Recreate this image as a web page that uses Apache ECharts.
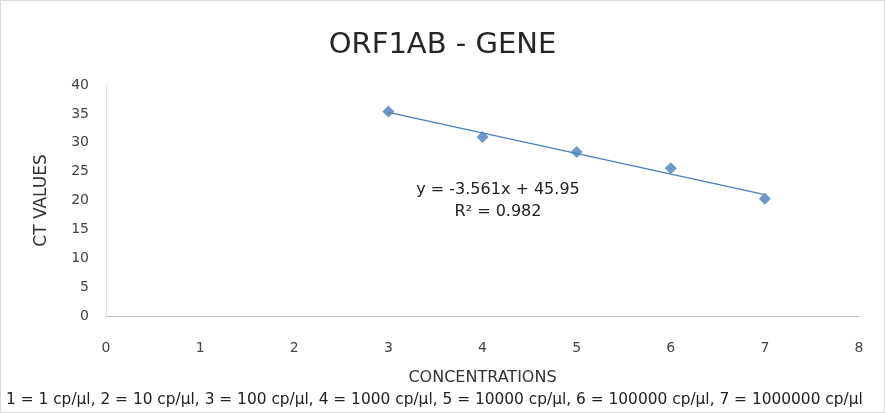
<!DOCTYPE html>
<html>
<head>
<meta charset="utf-8">
<script src="https://cdn.jsdelivr.net/npm/echarts@6/dist/echarts.min.js"></script>
<style>
  html, body { margin: 0; padding: 0; background: #fff; }
  #chart { width: 885px; height: 413px; box-sizing: border-box; border: 1px solid #d9d9d9; }
</style>
</head>
<body>
<div id="chart"></div>
<script>
// concentration index (log10 copies/ul)
const concentrations = [3, 4, 5, 6, 7]
const ctValues = [35.4, 31.0, 28.4, 25.6, 20.3]
// linear trendline from the picture
const slope = -3.561
const intercept = 45.95
const trendX = [3, 7]

const chart = echarts.init(document.getElementById('chart'))
const font = "'DejaVu Sans', sans-serif"

const option = {
  animation: false,
  textStyle: { fontFamily: font },
  title: {
    text: 'ORF1AB - GENE',
    left: 'center',
    top: 25,
    textStyle: { fontSize: 29, fontWeight: 'normal', color: '#262626', fontFamily: font }
  },
  grid: { left: 105, right: 25, top: 84, bottom: 96 },
  xAxis: {
    type: 'value',
    min: 0,
    max: 8,
    interval: 1,
    name: 'CONCENTRATIONS',
    nameLocation: 'middle',
    nameGap: 54,
    nameTextStyle: { fontSize: 16, color: '#333' },
    axisLine: { lineStyle: { color: '#bfbfbf' } },
    axisTick: { show: false },
    splitLine: { show: false },
    axisLabel: { fontSize: 14, color: '#444', margin: 25 }
  },
  yAxis: {
    type: 'value',
    min: 0,
    max: 40,
    interval: 5,
    name: 'CT VALUES',
    nameLocation: 'middle',
    nameGap: 56,
    nameTextStyle: { fontSize: 17, color: '#333' },
    axisLine: { show: true, lineStyle: { color: '#e0e0e0' } },
    axisTick: { show: false },
    splitLine: { show: false },
    axisLabel: { fontSize: 14, color: '#444', margin: 17 }
  },
  series: [
    {
      type: 'line',
      data: trendX.map(x => [x, slope * x + intercept]),
      symbol: 'none',
      lineStyle: { color: '#4a7ebb', width: 1.2 },
      z: 1
    },
    {
      type: 'scatter',
      data: concentrations.map((x, i) => [x, ctValues[i]]),
      symbol: 'diamond',
      symbolSize: [12, 12],
      itemStyle: { color: '#4a7ebb' },
      z: 2
    }
  ],
  graphic: [
    {
      type: 'text',
      x: 497,
      y: 189,
      style: { text: 'y = -3.561x + 45.95', fontSize: 16, fill: '#222', fontFamily: font, align: 'center', verticalAlign: 'middle' }
    },
    {
      type: 'text',
      x: 497,
      y: 211,
      style: { text: 'R² = 0.982', fontSize: 16, fill: '#222', fontFamily: font, align: 'center', verticalAlign: 'middle' }
    },
    {
      type: 'text',
      x: 5,
      y: 399,
      style: {
        text: '1 = 1 cp/μl, 2 = 10 cp/μl, 3 = 100 cp/μl, 4 = 1000 cp/μl, 5 = 10000 cp/μl, 6 = 100000 cp/μl, 7 = 1000000 cp/μl',
        fontSize: 15.4, fill: '#222', fontFamily: font, verticalAlign: 'middle'
      }
    }
  ]
}

chart.setOption(option)
</script>
</body>
</html>
